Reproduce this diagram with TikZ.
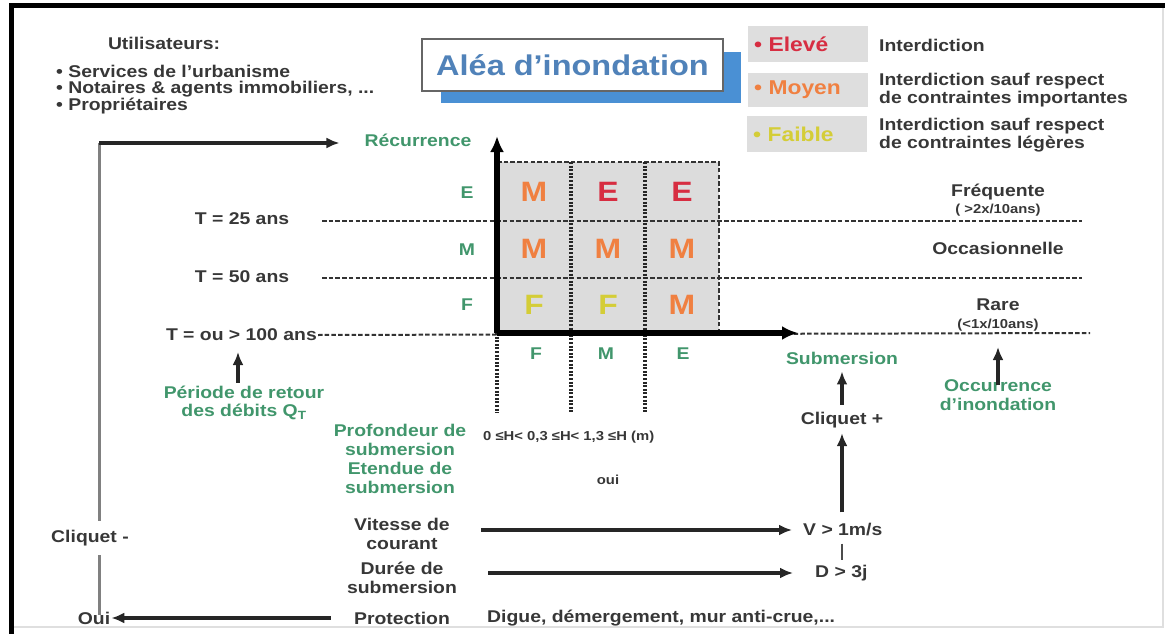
\documentclass[tikz,border=0pt]{standalone}
\usepackage{fontspec}
\setmainfont[FakeStretch=1.14]{Liberation Sans}
\usetikzlibrary{arrows.meta,calc}
\definecolor{txt}{RGB}{55,55,55}
\definecolor{grn}{RGB}{65,150,108}
\definecolor{cellgray}{RGB}{220,220,220}
\definecolor{boxgray}{RGB}{222,222,222}
\definecolor{orng}{RGB}{240,128,65}
\definecolor{redd}{RGB}{215,45,65}
\definecolor{yell}{RGB}{212,205,55}
\definecolor{shadblue}{RGB}{74,144,212}
\definecolor{titblue}{RGB}{80,130,185}
\begin{document}
\begin{tikzpicture}[x=1pt,y=-1pt,
  base/.style={inner sep=1pt, text=txt, font={\bfseries\fontsize{17}{18.5}\selectfont}, align=center},
  grnlab/.style={base, text=grn},
  small/.style={base, font={\bfseries\fontsize{13}{15}\selectfont}},
  cell/.style={inner sep=0pt, font={\bfseries\fontsize{28}{28}\selectfont}},
  legbox/.style={fill=boxgray, minimum width=120pt, minimum height=36pt, text width=108pt, inner xsep=6pt, align=left, font={\bfseries\fontsize{20}{21}\selectfont}},
  arr/.style={line width=3.8pt, draw=black!85, -{Latex[length=13pt,width=11pt]}},
  vline/.style={line width=3pt, draw=black!50},
  dsh/.style={line width=2pt, dash pattern=on 4.5pt off 2.2pt, draw=black!80},
  dotl/.style={line width=3.2pt, dash pattern=on 2pt off 1.6pt, draw=black!85},
  axis/.style={line width=5.5pt, draw=black, -{Latex[length=16pt,width=14pt]}}]
\useasboundingbox (0,0) rectangle (1165,634);
% frame
\draw[gray!25, line width=1.2pt] (11,627) -- (1163,627) -- (1163,6);
\draw[line width=5pt] (11,634) -- (11,6) -- (1165,6);

% users
\node[base] (util) at (164,43) {Utilisateurs:};
\node[base, anchor=west] (u1) at (55,71) {• Services de l’urbanisme};
\node[base, anchor=west] (u2) at (55,89) {• Notaires \& agents immobiliers, ...};
\node[base, anchor=west] (u3) at (55,106) {• Propriétaires};

% title
\fill[shadblue] (441,52) rectangle (741,103);
\node[draw=black!60, line width=2.5pt, fill=white, minimum width=301pt, minimum height=52pt, inner sep=0pt,
      text=titblue, font={\bfseries\fontsize{28.5}{30}\selectfont}] (title) at (572.5,65) {Aléa d’inondation};

% legend
\node[legbox, text=redd] (le) at (808,44) {• Elevé};
\node[legbox, text=orng, minimum height=34pt] (lm) at (808,90) {• Moyen};
\node[legbox, text=yell] (lf) at (807,134) {• Faible};
\node[base, anchor=west] (de) at (878,45) {Interdiction};
\node[base, anchor=west, align=left] (dm) at (878,90) {Interdiction sauf respect\\de contraintes importantes};
\node[base, anchor=west, align=left] (df) at (878,135) {Interdiction sauf respect\\de contraintes légères};

% matrix background and grid
\fill[cellgray] (497,162) rectangle (719,333);
\draw[dsh] (497,162) -- (719,162) -- (719,333);
\draw[dsh] (322,221) -- (1082,221);
\draw[dsh] (322,278) -- (1082,278);
\node[base, anchor=east] (t100) at (318,335) {T = ou > 100 ans};
\draw[dsh] (t100.east) -- (1090,333);
\draw[dotl] (571,162) -- (571,413);
\draw[dotl] (645,162) -- (645,413);
\draw[dotl] (497,333) -- (497,413);
\coordinate (O) at (497,333);
\draw[axis] (O) -- (497,136);
\draw[axis] (O) -- (798,333);

% labels around matrix
\node[grnlab] (rec) at (418,140) {Récurrence};
\node[base] (t25) at (242,219) {T = 25 ans};
\node[base] (t50) at (242,277) {T = 50 ans};
\node[grnlab] (re) at (467,193) {E};
\node[grnlab] (rm) at (467,250) {M};
\node[grnlab] (rf) at (467,305) {F};
\node[grnlab] (ce) at (536,354) {F};
\node[grnlab] (cm) at (606,354) {M};
\node[grnlab] (cf) at (683,354) {E};

% cells
\node[cell, text=orng] (c11) at (534,192) {M};
\node[cell, text=redd] (c12) at (608,192) {E};
\node[cell, text=redd] (c13) at (682,192) {E};
\node[cell, text=orng] (c21) at (534,249) {M};
\node[cell, text=orng] (c22) at (608,249) {M};
\node[cell, text=orng] (c23) at (682,249) {M};
\node[cell, text=yell] (c31) at (534,305) {F};
\node[cell, text=yell] (c32) at (608,305) {F};
\node[cell, text=orng] (c33) at (682,305) {M};

% right labels
\node[base] (freq) at (998,192) {Fréquente};
\node[small] (freqn) at (998,210) {( >2x/10ans)};
\node[base] (occa) at (998,248) {Occasionnelle};
\node[base] (rare) at (998,305) {Rare};
\node[small] (raren) at (998,325) {(<1x/10ans)};
\node[grnlab] (subm) at (842,358) {Submersion};
\node[grnlab, align=center] (occ) at (998,395) {Occurrence\\d’inondation};
\node[base] (cliqp) at (842,420) {Cliquet +};

% left/bottom labels
\node[grnlab] (per) at (244,403) {Période de retour\\des débits Q\textsubscript{T}};
\node[grnlab] (prof) at (400,440) {Profondeur de\\submersion};
\node[grnlab] (eten) at (400,478) {Etendue de\\submersion};
\node[small, anchor=west] (haut) at (482,437) {0 ≤H< 0,3 ≤H< 1,3 ≤H (m)};
\node[small] (oui2) at (608,480) {oui};
\node[base] (vit) at (402,534) {Vitesse de\\courant};
\node[base] (dur) at (402,578) {Durée de\\submersion};
\node[base] (prot) at (402,618) {Protection};
\node[base, anchor=west] (digue) at (486,618) {Digue, démergement, mur anti-crue,...};
\node[base, anchor=west] (v1) at (802,530) {V > 1m/s};
\node[base, anchor=west] (d3) at (814,573) {D > 3j};
\node[base] (cliqm) at (90,538) {Cliquet -};
\node[base] (oui) at (94,618) {Oui};

% connectors
\coordinate (corner) at (99,143);
\draw[vline] (cliqm.north -| corner) ++(0,-8) -- (corner);
\draw[arr, shorten >=24pt] (corner) -- (corner -| rec.west);
\draw[vline] ([yshift=-4pt]oui.north -| corner) -- ([yshift=-8pt]cliqm.south -| corner);
\draw[arr, shorten <=22pt] (prot.west) -- (oui.east);
\coordinate (pertip) at (238,352);
\draw[arr] ([yshift=2pt]per.north -| pertip) -- (pertip);
\coordinate (occtip) at (998,347);
\draw[arr] ([yshift=-6pt]occ.north) -- (occtip);
\draw[arr, shorten <=6pt, shorten >=6pt] (cliqp.north) -- (subm.south);
\draw[arr, shorten <=10pt, shorten >=4pt] (v1.north -| cliqp) -- (cliqp.south);
\draw[line width=1.5pt, draw=black!70, shorten <=6pt, shorten >=4pt] (v1.south -| cliqp) -- (d3.north -| cliqp);
\draw[arr, shorten <=30pt, shorten >=10pt] (vit.east |- v1.west) -- (v1.west);
\draw[arr, shorten <=30pt, shorten >=21pt] (dur.east |- d3.west) -- (d3.west);
\end{tikzpicture}
\end{document}
